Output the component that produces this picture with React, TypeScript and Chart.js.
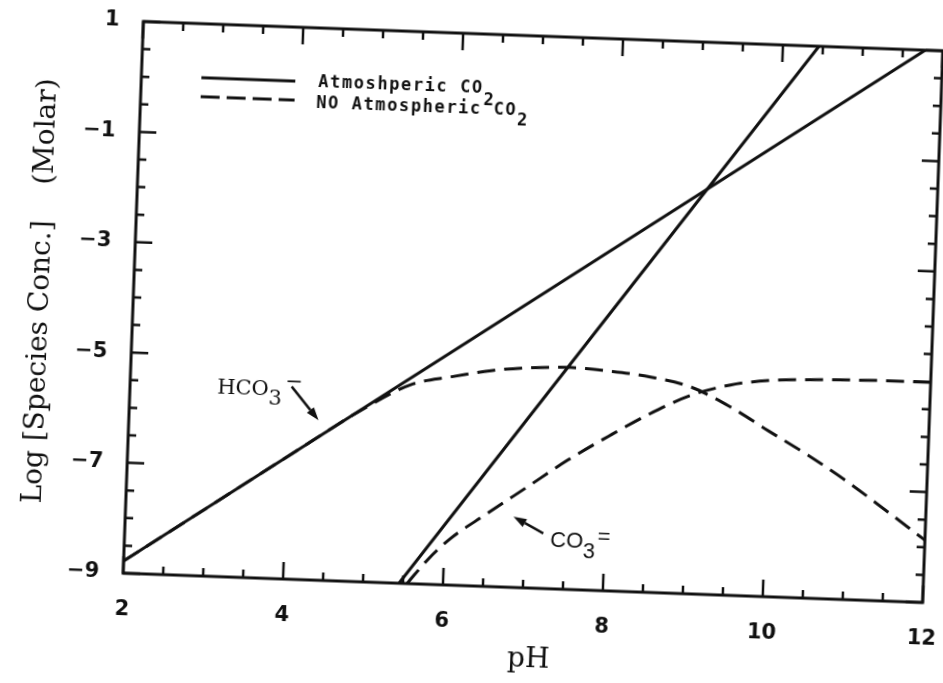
import { useEffect, useRef } from 'react';
import { Chart, registerables } from 'chart.js';

Chart.register(...registerables);

const INK = '#111';

// Labelled tick values
const phTicks = [2, 4, 6, 8, 10, 12];
const logTicks = [1, -1, -3, -5, -7, -9];

// Open system: equilibrium with atmospheric CO2 (straight lines in log space)
const phHco3Atm = [2, 11.78];
const logHco3Atm = [-8.78, 1];
const phCo3Atm = [5.45, 10.45];
const logCo3Atm = [-9, 1];

// Closed system: no atmospheric CO2
const phHco3Closed = [2, 3, 4, 5, 5.5, 6, 6.5, 7, 7.5, 8, 8.5, 9, 9.5, 10, 10.5, 11, 11.5, 12];
const logHco3Closed = [-8.78, -7.78, -6.78, -5.8, -5.4, -5.23, -5.09, -5.01, -4.98, -5.02, -5.1, -5.25, -5.58, -6.0, -6.41, -6.86, -7.36, -7.87];
const phCo3Closed = [5.55, 5.8, 6.07, 6.5, 7, 7.5, 8, 8.5, 9, 9.5, 10, 10.5, 11, 11.5, 12];
const logCo3Closed = [-9, -8.55, -8.16, -7.7, -7.18, -6.66, -6.2, -5.77, -5.41, -5.19, -5.08, -5.04, -5.02, -5.01, -5.01];

// Canvas geometry (extra margin so the tilted sheet never clips its labels)
const PAD = 20;
const W = 943 + 2 * PAD;
const H = 683 + 2 * PAD;
const AREA_LEFT = 133 + PAD;
const AREA_TOP = 36 + PAD;
const AREA_RIGHT_GAP = 10 + PAD;
const AREA_BOTTOM_GAP = 95 + PAD;
const TILT_DEG = 2.1;

const pts = (xs: number[], ys: number[]) => xs.map((x, i) => ({ x, y: ys[i] }));

type Run = { text: string; font: string; dy?: number; dx?: number };

function drawRuns(ctx: CanvasRenderingContext2D, x: number, y: number, runs: Run[]) {
  let cx = x;
  for (const r of runs) {
    ctx.font = r.font;
    cx += r.dx || 0;
    ctx.fillText(r.text, cx, y + (r.dy || 0));
    cx += ctx.measureText(r.text).width;
  }
}

function arrow(ctx: CanvasRenderingContext2D, x0: number, y0: number, x1: number, y1: number) {
  const ang = Math.atan2(y1 - y0, x1 - x0);
  const len = 13;
  const hw = 4.5;
  const bx = x1 - len * Math.cos(ang);
  const by = y1 - len * Math.sin(ang);
  ctx.beginPath();
  ctx.moveTo(x0, y0);
  ctx.lineTo(bx, by);
  ctx.lineWidth = 2.5;
  ctx.stroke();
  ctx.beginPath();
  ctx.moveTo(x1, y1);
  ctx.lineTo(bx - hw * Math.sin(ang), by + hw * Math.cos(ang));
  ctx.lineTo(bx + hw * Math.sin(ang), by - hw * Math.cos(ang));
  ctx.closePath();
  ctx.fill();
}

const decorations = {
  id: 'decorations',
  afterDatasetsDraw(chart: any) {
    const { ctx, chartArea: a, scales } = chart;
    const xs = scales.x;
    const ys = scales.y;
    ctx.save();
    ctx.strokeStyle = INK;
    ctx.fillStyle = INK;
    ctx.lineCap = 'butt';

    // frame
    ctx.lineWidth = 3;
    ctx.strokeRect(a.left, a.top, a.right - a.left, a.bottom - a.top);

    // inward ticks on all four sides
    ctx.lineWidth = 2.5;
    const MAJOR = 17;
    const MINOR = 8;
    ctx.beginPath();
    for (let v = 2; v <= 12.001; v += 0.5) {
      const px = xs.getPixelForValue(v);
      const len = phTicks.some((t) => Math.abs(t - v) < 1e-6) ? MAJOR : MINOR;
      ctx.moveTo(px, a.bottom);
      ctx.lineTo(px, a.bottom - len);
      ctx.moveTo(px, a.top);
      ctx.lineTo(px, a.top + len);
    }
    for (let v = -9; v <= 1.001; v += 0.5) {
      const py = ys.getPixelForValue(v);
      const len = logTicks.some((t) => Math.abs(t - v) < 1e-6) ? MAJOR : MINOR;
      ctx.moveTo(a.left, py);
      ctx.lineTo(a.left + len, py);
      ctx.moveTo(a.right, py);
      ctx.lineTo(a.right - len, py);
    }
    ctx.stroke();

    // legend
    const lx0 = a.left + 60;
    const lx1 = a.left + 154;
    ctx.lineWidth = 3;
    ctx.beginPath();
    ctx.moveTo(lx0, a.top + 54);
    ctx.lineTo(lx1, a.top + 54);
    ctx.stroke();
    ctx.setLineDash([19, 7]);
    ctx.beginPath();
    ctx.moveTo(lx0, a.top + 73);
    ctx.lineTo(lx1, a.top + 73);
    ctx.stroke();
    ctx.setLineDash([]);

    const legFont = 'bold 17px "DejaVu Sans Mono", monospace';
    ctx.textAlign = 'left';
    ctx.textBaseline = 'alphabetic';
    (ctx as any).letterSpacing = '1.6px';
    drawRuns(ctx, a.left + 177, a.top + 58.7, [
      { text: 'Atmoshperic CO', font: legFont },
      { text: '2', font: legFont, dy: 12 },
    ]);
    drawRuns(ctx, a.left + 175.7, a.top + 80.4, [
      { text: 'NO Atmospheric CO', font: legFont },
      { text: '2', font: legFont, dy: 10 },
    ]);
    (ctx as any).letterSpacing = '0px';

    // species labels with arrows
    const serif = '21px "DejaVu Serif", serif';
    drawRuns(ctx, xs.getPixelForValue(3.09), ys.getPixelForValue(-5.68), [
      { text: 'HCO', font: serif },
      { text: '3', font: serif, dy: 9 },
      { text: '\u2212', font: serif, dy: -8, dx: 3 },
    ]);
    arrow(ctx, xs.getPixelForValue(4.02), ys.getPixelForValue(-5.51), xs.getPixelForValue(4.37), ys.getPixelForValue(-6.1));

    const sans = '22px "Liberation Sans", sans-serif';
    drawRuns(ctx, xs.getPixelForValue(7.32), ys.getPixelForValue(-8.24), [
      { text: 'CO', font: sans },
      { text: '3', font: sans, dy: 10 },
      { text: '=', font: sans, dy: -5, dx: 2 },
    ]);
    arrow(ctx, xs.getPixelForValue(7.23), ys.getPixelForValue(-8.0), xs.getPixelForValue(6.85), ys.getPixelForValue(-7.72));

    // axis titles
    ctx.font = '28px "DejaVu Serif", serif';
    ctx.textAlign = 'center';
    ctx.textBaseline = 'middle';
    ctx.fillText('pH', (a.left + a.right) / 2 + 8, a.bottom + 72);

    ctx.save();
    ctx.translate(a.left - 85, (a.top + a.bottom) / 2 - 3);
    ctx.rotate(-Math.PI / 2);
    ctx.textBaseline = 'alphabetic';
    ctx.fillText('Log [Species Conc.]    (Molar)', 0, 0);
    ctx.restore();

    ctx.restore();
  },
};

const tickFont = { family: '"DejaVu Sans", sans-serif', size: 21, weight: 'bold' as const };

export default function App() {
  const ref = useRef<HTMLCanvasElement>(null);

  useEffect(() => {
    if (!ref.current) return;
    const line = (data: { x: number; y: number }[], dashed: boolean) => ({
      data,
      showLine: true,
      borderColor: INK,
      borderWidth: 3,
      borderDash: dashed ? [18, 9] : [],
      pointRadius: 0,
      fill: false,
      cubicInterpolationMode: 'monotone' as const,
    });

    const chart = new Chart(ref.current, {
      type: 'scatter',
      data: {
        datasets: [
          { label: 'Atmoshperic CO2 HCO3-', ...line(pts(phHco3Atm, logHco3Atm), false) },
          { label: 'Atmoshperic CO2 CO3=', ...line(pts(phCo3Atm, logCo3Atm), false) },
          { label: 'NO Atmospheric CO2 HCO3-', ...line(pts(phHco3Closed, logHco3Closed), true) },
          { label: 'NO Atmospheric CO2 CO3=', ...line(pts(phCo3Closed, logCo3Closed), true) },
        ],
      },
      options: {
        responsive: false,
        maintainAspectRatio: false,
        devicePixelRatio: 1,
        animation: false,
        layout: { padding: { top: AREA_TOP, right: AREA_RIGHT_GAP, left: 0, bottom: 0 } },
        plugins: { legend: { display: false }, tooltip: { enabled: false } },
        scales: {
          x: {
            type: 'linear',
            min: 2,
            max: 12,
            afterBuildTicks: (s: any) => {
              s.ticks = phTicks.map((value) => ({ value }));
            },
            afterFit: (s: any) => {
              s.height = AREA_BOTTOM_GAP;
              s.paddingLeft = 0;
              s.paddingRight = 0;
            },
            ticks: { color: INK, font: tickFont, padding: 24, maxRotation: 0, autoSkip: false },
            grid: { display: false, drawTicks: false },
            border: { display: false },
          },
          y: {
            type: 'linear',
            min: -9,
            max: 1,
            afterBuildTicks: (s: any) => {
              s.ticks = logTicks.map((value) => ({ value }));
            },
            afterFit: (s: any) => {
              s.width = AREA_LEFT;
              s.paddingTop = 0;
              s.paddingBottom = 0;
            },
            ticks: {
              color: INK,
              font: tickFont,
              padding: 24,
              autoSkip: false,
              callback: (v: any) => (Number(v) < 0 ? '\u2212' + Math.abs(Number(v)) : String(v)),
            },
            grid: { display: false, drawTicks: false },
            border: { display: false },
          },
        },
      },
      plugins: [decorations],
    });
    return () => chart.destroy();
  }, []);

  return (
    <div
      style={{
        position: 'fixed',
        left: 0,
        top: 0,
        width: 943,
        height: 683,
        overflow: 'hidden',
        background: '#fff',
      }}
    >
      <div
        style={{
          position: 'absolute',
          left: -PAD,
          top: -PAD,
          width: W,
          height: H,
          transform: `rotate(${TILT_DEG}deg)`,
          transformOrigin: `${533 + PAD}px ${312 + PAD}px`,
        }}
      >
        <canvas ref={ref} width={W} height={H} style={{ display: 'block', width: W, height: H }} />
      </div>
    </div>
  );
}
